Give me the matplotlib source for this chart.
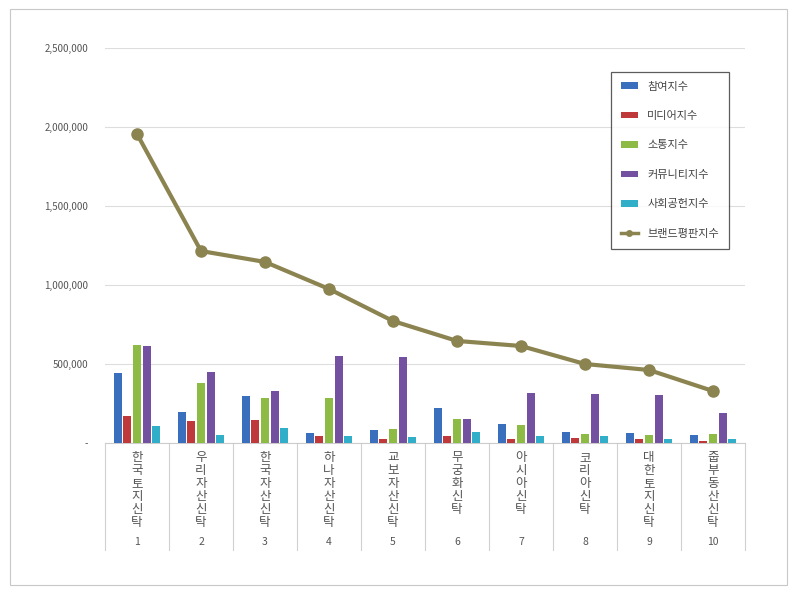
import matplotlib
matplotlib.use("Agg")
import matplotlib.pyplot as plt
import numpy as np
from matplotlib.patches import Rectangle
from matplotlib.lines import Line2D

plt.rcParams['font.family'] = ['Noto Sans CJK KR', 'Noto Sans CJK JP', 'Noto Sans CJK SC', 'DejaVu Sans']

ranks = ['1','2','3','4','5','6','7','8','9','10']
names = ['한국토지신탁','우리자산신탁','한국자산신탁','하나자산신탁','교보자산신탁',
         '무궁화신탁','아시아신탁','코리아신탁','대한토지신탁','줍부동산신탁']
series_names = ['참여지수','미디어지수','소통지수','커뮤니티지수','사회공헌지수']
participation = [441000,198000,298000,65000,80000,224000,120000,70000,61000,51000]
media = [173000,139000,146000,42000,27000,42000,27000,32000,27000,13000]
communication = [622000,378000,287000,283000,87000,150000,114000,55000,51000,55000]
community = [616000,449000,327000,549000,542000,154000,317000,308000,302000,188000]
social = [105000,51000,93000,42000,36000,72000,42000,42000,27000,27000]
brand_name = '브랜드평판지수'
brand = [1956000,1215000,1146000,975000,772000,646000,614000,500000,462000,329000]
yticks = [0,500000,1000000,1500000,2000000,2500000]

colors = ['#3a6fbd','#c0393a','#8dbb45','#7350a0','#31afc8']
line_color = '#8c8450'

fig = plt.figure(figsize=(8,5.94), dpi=100)
fig.patches.append(Rectangle((10/800, 9/594), 777/800, 576/594, transform=fig.transFigure,
                             fill=False, edgecolor='#c8c8c8', lw=0.8))
ax = fig.add_axes([105/800, (594-443)/594, 640/800, 395/594])
x = np.arange(len(ranks))
data = [participation, media, communication, community, social]
w = 0.125
for i, (d, c, n) in enumerate(zip(data, colors, series_names)):
    ax.bar(x + (i-2)*0.15, d, w, color=c, label=n, zorder=3)
ax.plot(x, brand, color=line_color, lw=3, marker='o', ms=8, zorder=4)

ax.set_xlim(-0.5, 9.5)
ax.set_ylim(0, 2500000)
ax.set_yticks(yticks)
ax.set_yticklabels(['-' if v == 0 else f'{v:,}' for v in yticks], fontsize=7, color='#555555')
ax.yaxis.grid(True, color='#dddddd', lw=0.8, zorder=0)
ax.set_xticks([])
ax.tick_params(axis='y', length=0, pad=12)
for s in ['top','right','left']:
    ax.spines[s].set_visible(False)
ax.spines['bottom'].set_color('#cccccc')

trans = ax.get_xaxis_transform()
for b in np.arange(-0.5, 10, 1):
    ax.plot([b, b], [0, -107/395], transform=trans, color='#d0d0d0', lw=0.8, clip_on=False)
for i in x:
    ax.text(i, -0.02, '\n'.join(names[i]), transform=trans, ha='center', va='top',
            fontsize=9, color='#555555', linespacing=1.0)
    ax.text(i, -0.25, ranks[i], transform=trans, ha='center', va='center', fontsize=7.5, color='#555555')

handles, labels = ax.get_legend_handles_labels()
handles.append(Line2D([], [], color=line_color, lw=2.5, marker='o', ms=4))
labels.append(brand_name)
leg = ax.legend(handles, labels, loc='upper left', bbox_to_anchor=(500/640, 1-18/395), fontsize=8,
                frameon=True, fancybox=False, edgecolor='#333333', labelspacing=1.75,
                handlelength=1.6, handleheight=0.5, borderpad=0.9, labelcolor='#444444')
leg.get_frame().set_linewidth(0.9)
fig.savefig('out.png', dpi=100)
